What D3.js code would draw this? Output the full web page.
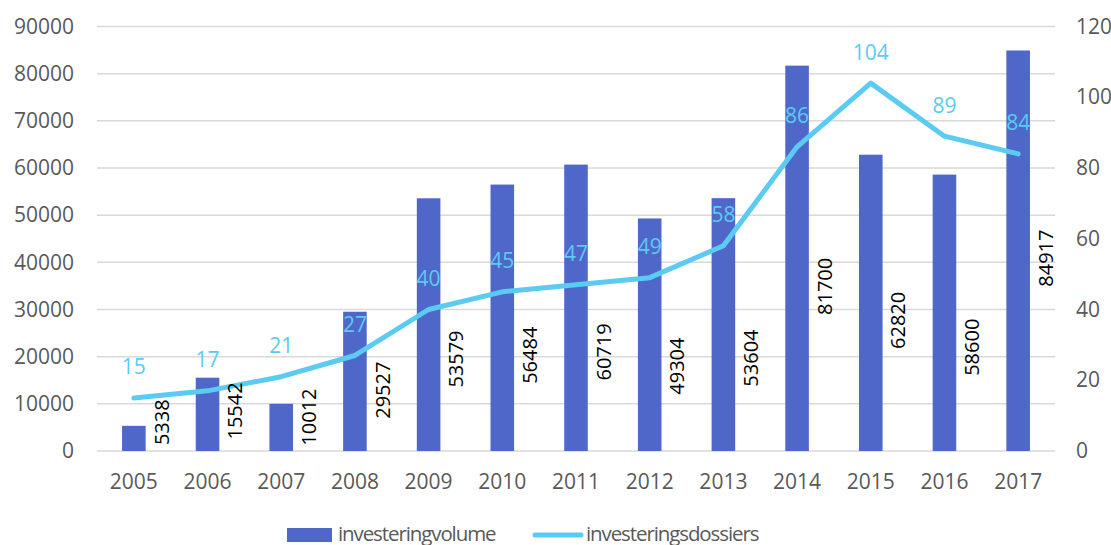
<!DOCTYPE html>
<html>
<head>
<meta charset="utf-8">
<script src="https://cdn.jsdelivr.net/npm/d3@7"></script>
<style>
  body { margin: 0; background: #fff; overflow: hidden; }
  svg { display: block; }
  text { font-family: "Open Sans", sans-serif; }
</style>
</head>
<body>
<svg></svg>
<script>
const years = ["2005","2006","2007","2008","2009","2010","2011","2012","2013","2014","2015","2016","2017"];
const volume = [5338, 15542, 10012, 29527, 53579, 56484, 60719, 49304, 53604, 81700, 62820, 58600, 84917];
const dossiers = [15, 17, 21, 27, 40, 45, 47, 49, 58, 86, 104, 89, 84];
const leftTicks = [0, 10000, 20000, 30000, 40000, 50000, 60000, 70000, 80000, 90000];
const rightTicks = [0, 20, 40, 60, 80, 100, 120];
const seriesNames = ["investeringvolume", "investeringsdossiers"];
// where the rotated volume labels sit (left axis units), as placed in the original
const volumeLabelAt = [6100, 8500, 7200, 12900, 19500, 20300, 21000, 18000, 19700, 34900, 27700, 22000, 40900];

var w = 1111;
var h = 545;
const margin = { top: 26.5, bottom: 94, left: 97, right: 56 };
const innerWidth = w - margin.left - margin.right;
const innerHeight = h - margin.top - margin.bottom;

const barColor = "#4e67c8";
const lineColor = "#5bcbf2";
const textGrey = "#595959";

let svg = d3.select("svg").attr("width", w).attr("height", h);
const g = svg.append("g").attr("transform", `translate(${margin.left}, ${margin.top})`);

let xScale = d3.scaleBand().domain(years).range([0, innerWidth]);
let yLeft = d3.scaleLinear().domain([0, 90000]).range([innerHeight, 0]);
let yRight = d3.scaleLinear().domain([0, 120]).range([innerHeight, 0]);
const cx = d => xScale(d) + xScale.bandwidth() / 2;
const barW = xScale.bandwidth() * 0.32;

// gridlines
g.selectAll(".grid").data(leftTicks).enter().append("line")
  .attr("x1", 0).attr("x2", innerWidth)
  .attr("y1", d => yLeft(d)).attr("y2", d => yLeft(d))
  .attr("stroke", "#d9d9d9").attr("stroke-width", 1.5);

// axes
const yAxisL = g.append("g").call(d3.axisLeft(yLeft).tickValues(leftTicks).tickSize(0).tickPadding(23).tickFormat(d3.format("d")));
const yAxisR = g.append("g").attr("transform", `translate(${innerWidth},0)`)
  .call(d3.axisRight(yRight).tickValues(rightTicks).tickSize(0).tickPadding(21));
const xAxis = g.append("g").attr("transform", `translate(0,${innerHeight})`)
  .call(d3.axisBottom(xScale).tickSize(0).tickPadding(23));
[yAxisL, yAxisR, xAxis].forEach(a => {
  a.select(".domain").remove();
  a.selectAll("text").attr("font-size", 21).attr("fill", textGrey).attr("font-family", "Open Sans");
});

// bars
g.selectAll(".bar").data(volume).enter().append("rect")
  .attr("x", (d, i) => cx(years[i]) - barW / 2)
  .attr("y", d => yLeft(d))
  .attr("width", barW)
  .attr("height", d => innerHeight - yLeft(d))
  .attr("fill", barColor);

// line
const line = d3.line().x((d, i) => cx(years[i])).y(d => yRight(d));
g.append("path").datum(dossiers)
  .attr("d", line)
  .attr("fill", "none")
  .attr("stroke", lineColor)
  .attr("stroke-width", 5)
  .attr("stroke-linejoin", "round")
  .attr("stroke-linecap", "round");

// volume labels (rotated)
g.selectAll(".vlab").data(volume).enter().append("text")
  .attr("transform", (d, i) => `translate(${cx(years[i]) + 27.5},${yLeft(volumeLabelAt[i])})rotate(-90)`)
  .attr("text-anchor", "middle")
  .attr("dy", "0.36em")
  .attr("font-size", 20)
  .attr("fill", "#000")
  .text(d => d);

// dossier labels
g.selectAll(".dlab").data(dossiers).enter().append("text")
  .attr("x", (d, i) => cx(years[i]))
  .attr("y", d => yRight(d) - 31)
  .attr("dy", "0.36em")
  .attr("text-anchor", "middle")
  .attr("font-size", 21)
  .attr("fill", lineColor)
  .text(d => d);

// legend
const leg = svg.append("g").attr("transform", "translate(287,0)");
leg.append("rect").attr("x", 0).attr("y", 528).attr("width", 45).attr("height", 14).attr("fill", barColor);
leg.append("text").attr("x", 51).attr("y", 541).attr("font-size", 20.5)
  .attr("letter-spacing", -1.1).attr("fill", textGrey).text(seriesNames[0]);
leg.append("line").attr("x1", 248).attr("x2", 294).attr("y1", 535).attr("y2", 535)
  .attr("stroke", lineColor).attr("stroke-width", 5).attr("stroke-linecap", "round");
leg.append("text").attr("x", 299).attr("y", 541).attr("font-size", 20.5)
  .attr("letter-spacing", -1.1).attr("fill", textGrey).text(seriesNames[1]);
</script>
</body>
</html>
